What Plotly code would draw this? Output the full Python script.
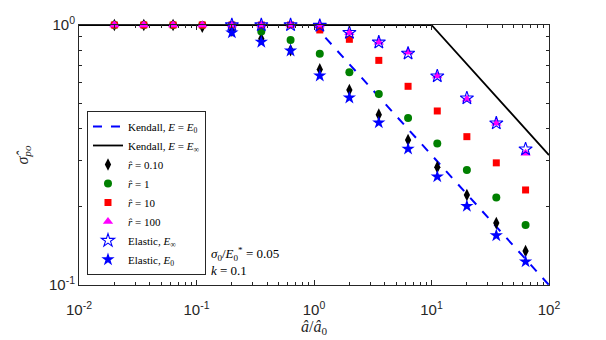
import plotly.graph_objects as go

# contact radius (normalised) for the simulation points
a_hat = [0.02, 0.0356, 0.0632, 0.112, 0.2, 0.356, 0.632, 1.12, 2.0, 3.56, 6.32, 11.2, 20.0, 35.6, 63.2]
a_el = [0.2, 0.356, 0.632, 1.12, 2.0, 3.56, 6.32, 11.2, 20.0, 35.6, 63.2]

# pull-off stress for each relaxation ratio r
sig_r010 = [1, 1, 1, 0.985, 0.95, 0.885, 0.80, 0.675, 0.562, 0.452, 0.361, 0.284, 0.222, 0.173, 0.135]
sig_r1 = [1, 1, 1, 1, 1, 0.945, 0.875, 0.776, 0.658, 0.543, 0.439, 0.350, 0.277, 0.217, 0.170]
sig_r10 = [1, 1, 1, 1, 1, 1, 1, 0.957, 0.881, 0.731, 0.581, 0.467, 0.372, 0.295, 0.232]
sig_r100 = [1, 1, 1, 1, 1, 1, 1, 1, 0.934, 0.858, 0.785, 0.636, 0.518, 0.419, 0.321]

# elastic limits
sig_el_inf = [1, 1, 1, 0.995, 0.934, 0.858, 0.778, 0.636, 0.523, 0.419, 0.333]
sig_el_0 = [0.934, 0.860, 0.796, 0.638, 0.525, 0.421, 0.334, 0.261, 0.201, 0.155, 0.123]

# Kendall curves
kend0_x = [0.01, 1, 100]
kend0_y = [1, 1, 0.1]
kendinf_x = [0.01, 10, 100]
kendinf_y = [1, 1, 0.316]

xticks = [0.01, 0.1, 1, 10, 100]
xticktext = ["10<sup>-2</sup>", "10<sup>-1</sup>", "10<sup>0</sup>", "10<sup>1</sup>", "10<sup>2</sup>"]
yticks = [0.1, 1]
yticktext = ["10<sup>-1</sup>", "10<sup>0</sup>"]

AX = "#262626"
SERIF = "Liberation Serif"
SANS = "Liberation Sans"

fig = go.Figure()
fig.add_trace(go.Scatter(x=kend0_x, y=kend0_y, mode="lines", cliponaxis=False,
                         line=dict(color="#0000ff", width=2, dash="dash"),
                         name="Kendall, <i>E</i> = <i>E</i><sub>0</sub>"))
fig.add_trace(go.Scatter(x=kendinf_x, y=kendinf_y, mode="lines", cliponaxis=False,
                         line=dict(color="black", width=1.8),
                         name="Kendall, <i>E</i> = <i>E</i><sub>∞</sub>"))

pts = [
    (a_hat, sig_r010, "diamond-tall", "black", 9, "<i>r̂</i> = 0.10"),
    (a_hat, sig_r1, "circle", "#008000", 8, "<i>r̂</i> = 1"),
    (a_hat, sig_r10, "square", "#ff0000", 7, "<i>r̂</i> = 10"),
    (a_hat, sig_r100, "triangle-up", "#ff00ff", 9, "<i>r̂</i> = 100"),
]
for xs, ys, sym, col, sz, nm in pts:
    fig.add_trace(go.Scatter(x=xs, y=ys, mode="markers", cliponaxis=False, name=nm,
                             marker=dict(symbol=sym, color=col, size=sz, line=dict(width=0))))

fig.add_trace(go.Scatter(x=a_el, y=sig_el_inf, mode="markers", cliponaxis=False,
                         name="Elastic, <i>E</i><sub>∞</sub>",
                         marker=dict(symbol="star-open", color="#0000ff", size=10, line=dict(width=1.1))))
fig.add_trace(go.Scatter(x=a_el, y=sig_el_0, mode="markers", cliponaxis=False,
                         name="Elastic, <i>E</i><sub>0</sub>",
                         marker=dict(symbol="star", color="#0000ff", size=10, line=dict(width=0))))

axis_common = dict(type="log", showgrid=False, zeroline=False, showline=True, linecolor=AX,
                   linewidth=1, mirror="allticks", ticks="inside", ticklen=5, tickcolor=AX,
                   automargin=False,
                   tickfont=dict(family=SANS, size=15, color=AX),
                   minor=dict(ticks="inside", ticklen=3, tickcolor=AX, dtick="D1", showgrid=False))

fig.update_xaxes(range=[-2, 2], tickvals=xticks, ticktext=xticktext, ticklabelstandoff=11,
                 title=dict(text="<i>â</i>/<i>â</i><sub>0</sub>", font=dict(family=SERIF, size=16, color=AX), standoff=1),
                 **axis_common)
fig.update_yaxes(range=[-1, 0], tickvals=yticks, ticktext=yticktext,
                 title=dict(text="<i>σ̂</i><sub><i>po</i></sub>", font=dict(family=SERIF, size=16, color=AX), standoff=16),
                 **axis_common)

fig.add_annotation(xref="paper", yref="paper", x=0.276, y=0.092, xanchor="left", yanchor="middle",
                   align="left", showarrow=False,
                   text="<i>σ</i><sub>0</sub>/<i>E</i><sub>0</sub><sup>*</sup> = 0.05<br><i>k</i> = 0.1",
                   font=dict(family=SERIF, size=13, color="black"))

# the page body adds an 8px offset, so size and margins are reduced to keep the plot box in place
fig.update_layout(
    width=598, height=332,
    margin=dict(l=71, r=57, t=17, b=55),
    paper_bgcolor="white", plot_bgcolor="white",
    legend=dict(x=0.017, y=0.0385, xanchor="left", yanchor="bottom",
                bgcolor="white", bordercolor=AX, borderwidth=1,
                font=dict(family=SERIF, size=11, color="black"),
                itemwidth=30, tracegroupgap=0),
)

fig.write_html("out.html")
